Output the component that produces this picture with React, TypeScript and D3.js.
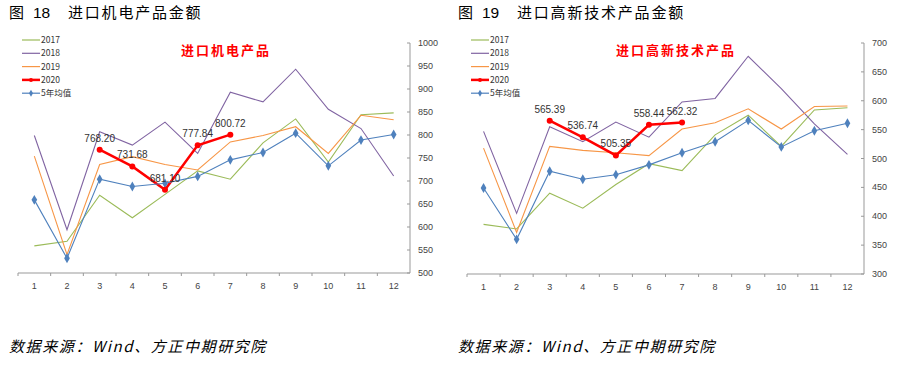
import React from "react";
import * as d3 from "d3";

const months = ["1", "2", "3", "4", "5", "6", "7", "8", "9", "10", "11", "12"];
const seriesNames = ["2017", "2018", "2019", "2020", "5年均值"];

// 进口机电产品
const mech2017 = [559, 569, 669, 620, 671, 722, 704, 783, 835, 741, 844, 848];
const mech2018 = [799, 594, 807, 778, 828, 760, 893, 872, 943, 856, 814, 711];
const mech2019 = [754, 540, 736, 753, 736, 724, 785, 799, 818, 760, 843, 833];
const mech2020 = [null, null, 768.2, 731.68, 681.1, 777.84, 800.72, null, null, null, null, null];
const mechAvg = [659, 532, 704, 688, 695, 710, 746, 762, 804, 733, 789, 801];
const mechTicks = [500, 550, 600, 650, 700, 750, 800, 850, 900, 950, 1000];

// 进口高新技术产品
const tech2017 = [386, 378, 440, 414, 455, 491, 479, 541, 575, 521, 584, 588];
const tech2018 = [547, 405, 555, 529, 563, 537, 598, 604, 677, 621, 560, 507];
const tech2019 = [518, 372, 521, 514, 510, 505, 551, 562, 586, 551, 590, 591];
const tech2020 = [null, null, 565.39, 536.74, 505.35, 558.44, 562.32, null, null, null, null, null];
const techAvg = [449, 360, 478, 464, 472, 489, 510, 529, 566, 520, 548, 561];
const techTicks = [300, 350, 400, 450, 500, 550, 600, 650, 700];

const colors = ["#9BBB59", "#8064A2", "#F79646", "#FF0000", "#4F81BD"];

type Props = {
  left: number;
  right: number;
  top: number;
  bottom: number;
  domain: [number, number];
  ticks: number[];
  series: (number | null)[][];
  figNo: string;
  title: string;
  label: string;
  labelX: number;
};

const cjk = "'Noto Sans CJK SC', sans-serif";

const Chart = ({ left, right, top, bottom, domain, ticks, series, figNo, title, label, labelX }: Props) => {
  const x = d3.scaleBand().domain(months).range([left, right]);
  const y = d3.scaleLinear().domain(domain).range([bottom, top]);
  const cx = (i: number) => (x(months[i]) as number) + x.bandwidth() / 2;

  const line = d3
    .line<number | null>()
    .defined((d) => d != null)
    .x((_, i) => cx(i))
    .y((d) => y(d as number));

  const diamond = d3.symbol(d3.symbolDiamond, 28)();
  const lx = left + 4;
  const t0 = left - 9;

  return (
    <g>
      <g fontSize={15} fill="#000" fontFamily={cjk}>
        <text x={t0} y={18}>图</text>
        <text x={t0 + 24} y={18} fontFamily="'Liberation Sans', sans-serif" fontSize={15.5}>{figNo}</text>
        <text x={t0 + 59} y={18} letterSpacing={1.8}>{title}</text>
      </g>
      <text x={labelX} y={55} fontSize={13} fontWeight="bold" fill="#FF0000" letterSpacing={2} fontFamily={cjk}>
        {label}
      </text>

      {/* legend */}
      {seriesNames.map((name, i) => {
        const ly = 40 + i * 13.3;
        return (
          <g key={name}>
            <line x1={lx} x2={lx + 18} y1={ly} y2={ly} stroke={colors[i]} strokeWidth={i === 3 ? 2.5 : 1.2} />
            {i === 3 && <circle cx={lx + 9} cy={ly} r={2} fill={colors[i]} />}
            {i === 4 && <path d={d3.symbol(d3.symbolDiamond, 14)()!} transform={`translate(${lx + 9},${ly})`} fill={colors[i]} />}
            <text x={lx + 19} y={ly + 3} fontSize={8.5} fill="#333" fontFamily={cjk}>
              {name}
            </text>
          </g>
        );
      })}

      {/* axes */}
      <line x1={left} x2={right} y1={bottom} y2={bottom} stroke="#999" />
      {months.map((m, i) => (
        <g key={m}>
          <line x1={x(m)} x2={x(m)} y1={bottom} y2={bottom + 3} stroke="#999" />
          <text x={cx(i)} y={bottom + 16} fontSize={9} textAnchor="middle" fill="#444" fontFamily="'Liberation Sans', sans-serif">
            {m}
          </text>
        </g>
      ))}
      <line x1={right} x2={right} y1={top} y2={bottom} stroke="#999" />
      {ticks.map((t) => (
        <g key={t}>
          <line x1={right - 3} x2={right} y1={y(t)} y2={y(t)} stroke="#999" />
          <text x={right + 8} y={y(t) + 3} fontSize={9} fill="#444" fontFamily="'Liberation Sans', sans-serif">
            {t}
          </text>
        </g>
      ))}

      {/* lines */}
      {series.map((s, i) => (
        <path key={i} d={line(s) || ""} fill="none" stroke={colors[i]} strokeWidth={i === 3 ? 2.5 : 1.1} />
      ))}

      {series[4].map((d, i) => (
        <path key={i} d={diamond!} transform={`translate(${cx(i)},${y(d as number)})`} fill={colors[4]} />
      ))}
      {series[3].map((d, i) =>
        d == null ? null : (
          <g key={i}>
            <circle cx={cx(i)} cy={y(d)} r={3} fill={colors[3]} />
            <text x={cx(i)} y={y(d) - 8} fontSize={10} textAnchor="middle" fill="#333" fontFamily="'Liberation Sans', sans-serif">
              {d.toFixed(2)}
            </text>
          </g>
        )
      )}

      <text x={t0} y={352} fontSize={15} fontStyle="italic" fill="#000" letterSpacing={1.6} fontFamily={cjk}>
        数据来源：Wind、方正中期研究院
      </text>
    </g>
  );
};

export default function App() {
  return (
    <svg width={901} height={370} style={{ display: "block", position: "absolute", left: 0, top: 0, background: "#fff" }}>
      <rect width={901} height={370} fill="#fff" />
      <Chart
        left={18}
        right={410}
        top={43}
        bottom={273}
        domain={[500, 1000]}
        ticks={mechTicks}
        series={[mech2017, mech2018, mech2019, mech2020, mechAvg]}
        figNo="18"
        title="进口机电产品金额"
        label="进口机电产品"
        labelX={181}
      />
      <Chart
        left={467}
        right={864}
        top={43}
        bottom={274}
        domain={[300, 700]}
        ticks={techTicks}
        series={[tech2017, tech2018, tech2019, tech2020, techAvg]}
        figNo="19"
        title="进口高新技术产品金额"
        label="进口高新技术产品"
        labelX={616}
      />
    </svg>
  );
}
